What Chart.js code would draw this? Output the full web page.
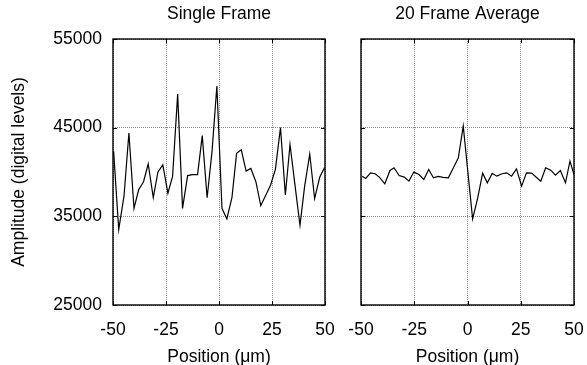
<!DOCTYPE html>
<html>
<head>
<meta charset="utf-8">
<script src="https://cdn.jsdelivr.net/npm/chart.js@4.4.1/dist/chart.umd.min.js"></script>
<style>
  html, body { margin: 0; padding: 0; background: #fff; }
  #wrap { position: relative; width: 587px; height: 365px; overflow: hidden; }
  canvas { position: absolute; top: 0; }
  #single { left: 0; }
  #average { left: 340px; }
</style>
</head>
<body>
<div id="wrap">
  <canvas id="single" width="340" height="365"></canvas>
  <canvas id="average" width="247" height="365"></canvas>
</div>
<script>
// positions (um) and amplitudes for the single-frame trace
const singlePositions = [-49.7, -47.3, -44.8, -42.5, -40.1, -37.9, -35.6, -33.4, -31.0, -28.8,
  -26.5, -24.1, -21.9, -19.5, -17.2, -14.8, -12.5, -10.1, -7.9, -5.6,
  -3.3, -1.0, 1.4, 3.7, 6.1, 8.3, 10.5, 12.8, 15.0, 17.4,
  19.7, 22.1, 24.3, 26.6, 29.0, 31.3, 33.5, 35.9, 38.2, 40.4,
  42.8, 45.1, 47.5, 49.8];
const singleFrame = [42300, 33500, 37300, 44400, 35900, 38000, 38900, 40900, 37100, 40000,
  40800, 37600, 39500, 48800, 35900, 39600, 39700, 39700, 44100, 37100,
  42300, 49700, 35900, 34700, 37100, 42100, 42500, 40100, 40400, 38900,
  36200, 37400, 38500, 40300, 45000, 37400, 43100, 38400, 34000, 38400,
  42000, 37000, 39400, 40500];

// positions (um) and amplitudes for the 20 frame average
const averagePositions = [-49.4, -47.8, -45.5, -43.4, -41.4, -38.8, -36.4, -34.5, -32.1, -29.7,
  -27.5, -25.2, -22.8, -20.5, -18.2, -16.0, -13.8, -11.4, -9.0, -6.6,
  -4.3, -2.0, 0.3, 2.4, 4.8, 7.1, 9.3, 11.6, 13.8, 16.2,
  18.4, 20.7, 23.0, 25.4, 27.7, 30.1, 32.4, 34.4, 36.7, 39.1,
  41.3, 43.6, 46.0, 48.1, 50.0];
const frameAverage = [39530, 39270, 39910, 39800, 39420, 38670, 40170, 40480, 39610, 39420,
  38970, 39990, 39720, 39160, 40290, 39340, 39500, 39400, 39350, 40480,
  41610, 45190, 39700, 34710, 37080, 39870, 38780, 39840, 39530, 39800,
  39910, 39530, 40360, 38400, 39910, 39870, 39380, 38970, 40480, 40210,
  39650, 40170, 38780, 41230, 39720];

const xTickValues = [-50, -25, 0, 25, 50];
const yTickValues = [25000, 35000, 45000, 55000];

const FONT = "'Liberation Sans', Arial, Helvetica, sans-serif";
const FONT_SIZE = 17.5;
const TICK = 4;

// black frame round the plot with short inward tick marks on every side
const frameTicks = {
  id: 'frameTicks',
  afterDraw(chart) {
    const { ctx, chartArea: a, scales } = chart;
    ctx.save();
    ctx.strokeStyle = '#000';
    ctx.lineWidth = 1;
    ctx.beginPath();
    xTickValues.forEach(v => {
      const px = Math.round(scales.x.getPixelForValue(v)) + 0.5;
      ctx.moveTo(px, a.bottom); ctx.lineTo(px, a.bottom - TICK);
      ctx.moveTo(px, a.top); ctx.lineTo(px, a.top + TICK);
    });
    yTickValues.forEach(v => {
      const py = Math.round(scales.y.getPixelForValue(v)) + 0.5;
      ctx.moveTo(a.left, py); ctx.lineTo(a.left + TICK, py);
      ctx.moveTo(a.right, py); ctx.lineTo(a.right - TICK, py);
    });
    ctx.stroke();
    ctx.lineWidth = 1.4;
    ctx.strokeRect(a.left, a.top, a.right - a.left, a.bottom - a.top);
    ctx.restore();
  }
};

function makePanel(canvasId, title, positions, values, showY, padding, yWidth) {
  const points = positions.map((x, i) => ({ x: x, y: values[i] }));
  return new Chart(document.getElementById(canvasId), {
    type: 'line',
    data: {
      datasets: [{
        data: points,
        borderColor: '#000',
        borderWidth: 1.2,
        pointRadius: 0,
        tension: 0,
        fill: false
      }]
    },
    options: {
      responsive: false,
      animation: false,
      layout: { padding: padding },
      plugins: {
        legend: { display: false },
        tooltip: { enabled: false },
        title: {
          display: true,
          text: title,
          fullSize: false,
          color: '#000',
          font: { family: FONT, size: FONT_SIZE, weight: 'normal', lineHeight: 1.2 },
          padding: { top: 4, bottom: 14 }
        }
      },
      scales: {
        x: {
          type: 'linear',
          min: -50,
          max: 50,
          afterBuildTicks: s => { s.ticks = xTickValues.map(v => ({ value: v })); },
          // fixed axis height, and no extra room for the end labels
          afterFit: s => { s.height = 60; s.paddingLeft = 0; s.paddingRight = 0; },
          grid: { color: '#888', drawTicks: false },
          border: { display: false, dash: [1, 1] },
          ticks: {
            color: '#000',
            padding: 15,
            maxRotation: 0,
            font: { family: FONT, size: FONT_SIZE },
            callback: v => String(v)
          },
          title: {
            display: true,
            text: 'Position (μm)',
            color: '#000',
            font: { family: FONT, size: FONT_SIZE, lineHeight: 1 },
            padding: { top: 0, bottom: -1 }
          }
        },
        y: {
          min: 25000,
          max: 55000,
          afterBuildTicks: s => { s.ticks = yTickValues.map(v => ({ value: v })); },
          afterFit: s => { s.width = yWidth; s.paddingTop = 0; s.paddingBottom = 0; },
          grid: { color: '#888', drawTicks: false },
          border: { display: false, dash: [1, 1] },
          ticks: {
            display: showY,
            color: '#000',
            padding: 11,
            font: { family: FONT, size: FONT_SIZE },
            callback: v => String(v)
          },
          title: {
            display: showY,
            text: 'Amplitude (digital levels)',
            color: '#000',
            font: { family: FONT, size: FONT_SIZE, lineHeight: 1.2 },
            padding: { top: 9, bottom: 0 }
          }
        }
      }
    },
    plugins: [frameTicks]
  });
}

makePanel('single', 'Single Frame', singlePositions, singleFrame, true,
  { left: 0, right: 15, top: 0, bottom: 0 }, 113);
makePanel('average', '20 Frame Average', averagePositions, frameAverage, false,
  { left: 21, right: 13, top: 0, bottom: 0 }, 0);
</script>
</body>
</html>
